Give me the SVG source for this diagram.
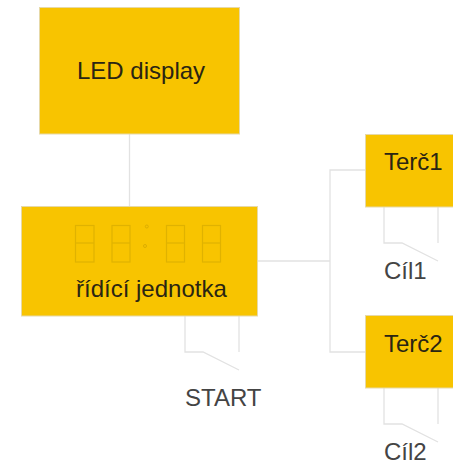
<svg xmlns="http://www.w3.org/2000/svg" width="453" height="463" viewBox="0 0 453 463">
<style>
.box{fill:#f8c400;stroke:#e6d9a8;stroke-width:1}
.wire{fill:none;stroke:#e2e2e2;stroke-width:1.3}
.seg{fill:none;stroke:#e0b200;stroke-width:1.2}
.dot{fill:none;stroke:#dcae00;stroke-width:1}
.t{font-family:"Liberation Sans",Arial,sans-serif;font-size:24px}
.dk{fill:#2a2513}
.gr{fill:#444444}
</style>
<g id="connectors">
<path class="wire" d="M129.5 134V206.5"/>
<path class="wire" d="M257.5 261H330M365.5 170H330V352H365.5"/>
<path class="wire" d="M185 316V352H203L239 370M239 316V352"/>
<path class="wire" d="M384 207V243H402L438 261M438 207V243"/>
<path class="wire" d="M384 388V424H402L438 442M438 388V424"/>
</g>
<g id="led-display">
<rect class="box" x="39.500" y="7.500" width="200" height="126.500"/>
<text class="t dk" x="77" y="79">LED display</text>
</g>
<g id="ridici-jednotka">
<rect class="box" x="21.500" y="206.500" width="236" height="109.500"/>
<rect class="seg" x="75.500" y="225.500" width="18.500" height="36.500"/>
<path class="seg" d="M75.500 243H94"/>
<rect class="seg" x="112" y="225.500" width="18" height="36.500"/>
<path class="seg" d="M112 243H130"/>
<rect class="seg" x="166.500" y="225.500" width="18" height="36.500"/>
<path class="seg" d="M166.500 243H184.500"/>
<rect class="seg" x="202.500" y="225.500" width="18" height="36.500"/>
<path class="seg" d="M202.500 243H220.500"/>
<circle class="dot" cx="146.800" cy="226.500" r="1.500"/>
<circle class="dot" cx="145" cy="246" r="1.500"/>
<text class="t dk" x="76" y="297">řídící jednotka</text>
</g>
<g id="terc1">
<rect class="box" x="365.500" y="134.500" width="88" height="72.500"/>
<text class="t dk" x="384" y="170">Terč1</text>
</g>
<g id="terc2">
<rect class="box" x="365.500" y="315.500" width="88" height="72.500"/>
<text class="t dk" x="384" y="352">Terč2</text>
</g>
<g id="labels">
<text class="t gr" x="185" y="406">START</text>
<text class="t gr" x="384" y="279">Cíl1</text>
<text class="t gr" x="384" y="460">Cíl2</text>
</g>
</svg>
